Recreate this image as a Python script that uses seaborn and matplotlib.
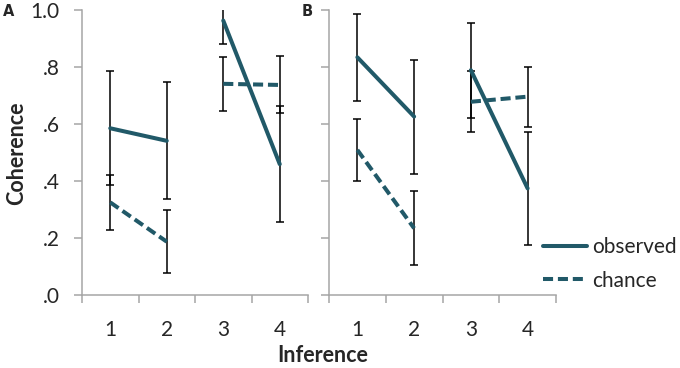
import numpy as np
import pandas as pd
import matplotlib
matplotlib.use('Agg')
import matplotlib.pyplot as plt
import seaborn as sns
from matplotlib.lines import Line2D

sns.set_style('white')
plt.rcParams['font.family'] = ['Lato', 'DejaVu Sans']

# data
inference = [1, 2, 3, 4]
obs_A = [0.585, 0.541, 0.963, 0.459]
obs_A_err = [0.20, 0.205, 0.083, 0.203]
chance_A = [0.325, 0.187, 0.741, 0.737]
chance_A_err = [0.096, 0.11, 0.095, 0.10]
obs_B = [0.834, 0.626, 0.789, 0.374]
obs_B_err = [0.152, 0.20, 0.167, 0.198]
chance_B = [0.509, 0.234, 0.678, 0.696]
chance_B_err = [0.11, 0.13, 0.107, 0.105]
ytick_labels = ['.0', '.2', '.4', '.6', '.8', '1.0']

teal = '#215968'
grey = '#a6a6a6'

rows = []
for panel, o, oe, c, ce in [('A', obs_A, obs_A_err, chance_A, chance_A_err),
                            ('B', obs_B, obs_B_err, chance_B, chance_B_err)]:
    for i, x in enumerate(inference):
        seg = 0 if x <= 2 else 1
        rows.append((panel, 'observed', seg, i, o[i], oe[i]))
        rows.append((panel, 'chance', seg, i, c[i], ce[i]))
df = pd.DataFrame(rows, columns=['panel', 'series', 'seg', 'pos', 'value', 'err'])

fig = plt.figure(figsize=(6.8, 3.68), dpi=100)
axA = fig.add_axes([82/680, 1-295/368, 226/680, 285/368])
axB = fig.add_axes([329/680, 1-295/368, 227/680, 285/368])

for ax, panel in [(axA, 'A'), (axB, 'B')]:
    d = df[df.panel == panel]
    ax.errorbar(d.pos, d.value, yerr=d.err, fmt='none', ecolor='black',
                elinewidth=1.1, capsize=3, capthick=1.1, zorder=2)
    for series, dash in [('observed', ''), ('chance', (2.5, 1.2))]:
        for seg in [0, 1]:
            s = d[(d.series == series) & (d.seg == seg)]
            sns.lineplot(data=s, x='pos', y='value', ax=ax, color=teal,
                         lw=2.9, estimator=None, legend=False, zorder=3)
            if dash:
                ax.lines[-1].set_dashes(dash)
                ax.lines[-1].set_dash_capstyle('butt')
    ax.set_xlim(-0.5, 3.5)
    ax.set_ylim(0, 1)
    ax.set_xticks(range(4))
    ax.set_xticklabels([str(i) for i in inference])
    ax.set_xticks(np.arange(-0.5, 4, 1), minor=True)
    ax.tick_params(axis='x', which='major', length=0, pad=18, labelsize=15)
    ax.tick_params(axis='x', which='minor', length=6, width=1.1, color=grey, direction='out', bottom=True)
    ax.set_yticks(np.arange(0, 1.01, 0.2))
    ax.tick_params(axis='y', length=6, width=1.1, color=grey, direction='out', left=True, labelsize=15, pad=10)
    ax.set_xlabel('')
    ax.set_ylabel('')
    sns.despine(ax=ax)
    for sp in ['left', 'bottom']:
        ax.spines[sp].set_color(grey)
        ax.spines[sp].set_linewidth(1.1)
    ax.patch.set_alpha(0)

axA.set_yticklabels(ytick_labels)
axB.set_yticklabels([])

fig.text(3/680, 1-16/368, 'A', fontsize=10.5, fontweight='black', ha='left', va='baseline', family=['DejaVu Sans'])
fig.text(302/680, 1-16/368, 'B', fontsize=10.5, fontweight='black', ha='left', va='baseline', family=['DejaVu Sans'])
fig.text(17/680, 1-153/368, 'Coherence', fontsize=15.5, fontweight='bold', rotation=90, ha='center', va='center')
fig.text(323/680, 1-356/368, 'Inference', fontsize=15.5, fontweight='bold', ha='center', va='center')

handles = [Line2D([], [], color=teal, lw=2.9),
           Line2D([], [], color=teal, lw=2.9, dashes=(2.5, 1.2))]
fig.legend(handles, ['observed', 'chance'], frameon=False, fontsize=15,
           loc='center left', bbox_to_anchor=(543/680, 1-264/368),
           handlelength=2.1, handletextpad=0.25, labelspacing=0.65,
           borderaxespad=0, borderpad=0)

fig.savefig('out.png', dpi=100)
